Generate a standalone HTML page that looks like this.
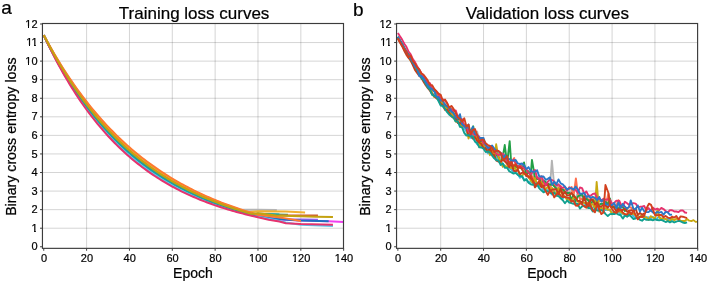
<!DOCTYPE html>
<html><head><meta charset="utf-8"><style>
html,body{margin:0;padding:0;background:#fff;width:708px;height:283px;overflow:hidden}
svg{display:block;font-family:"Liberation Sans",sans-serif;will-change:transform}
text{stroke:#000;stroke-width:0.22px}
</style></head><body>
<svg width="708" height="283" viewBox="0 0 708 283" font-family="Liberation Sans, sans-serif">
<rect width="708" height="283" fill="#fff"/>
<path d="M86.60 23.50V248.35M129.44 23.50V248.35M172.29 23.50V248.35M215.13 23.50V248.35M257.98 23.50V248.35M300.83 23.50V248.35" stroke="#000" stroke-opacity="0.17" stroke-width="1" fill="none"/>
<path d="M42.45 228.21H343.50M42.45 209.65H343.50M42.45 191.08H343.50M42.45 172.52H343.50M42.45 153.95H343.50M42.45 135.38H343.50M42.45 116.82H343.50M42.45 98.25H343.50M42.45 79.69H343.50M42.45 61.12H343.50M42.45 42.55H343.50" stroke="#000" stroke-opacity="0.17" stroke-width="1" fill="none"/>
<path d="M440.70 23.50V248.35M483.54 23.50V248.35M526.39 23.50V248.35M569.23 23.50V248.35M612.08 23.50V248.35M654.93 23.50V248.35" stroke="#000" stroke-opacity="0.17" stroke-width="1" fill="none"/>
<path d="M396.55 228.21H697.60M396.55 209.65H697.60M396.55 191.08H697.60M396.55 172.52H697.60M396.55 153.95H697.60M396.55 135.38H697.60M396.55 116.82H697.60M396.55 98.25H697.60M396.55 79.69H697.60M396.55 61.12H697.60M396.55 42.55H697.60" stroke="#000" stroke-opacity="0.17" stroke-width="1" fill="none"/>
<svg x="42.45" y="23.50" width="301.05" height="224.85" viewBox="42.45 23.50 301.05 224.85" overflow="hidden">
<polyline points="43.75,35.13 45.89,39.55 48.03,43.87 50.18,48.10 52.32,52.24 54.46,56.28 56.60,60.24 58.75,64.12 60.89,67.91 63.03,71.61 65.17,75.24 67.32,78.79 69.46,82.26 71.60,85.66 73.74,88.98 75.88,92.23 78.03,95.41 80.17,98.52 82.31,101.57 84.45,104.55 86.60,107.46 88.74,110.31 90.88,113.10 93.02,115.83 95.17,118.50 97.31,121.11 99.45,123.66 101.59,126.16 103.73,128.61 105.88,131.00 108.02,133.34 110.16,135.63 112.30,137.87 114.45,140.06 116.59,142.21 118.73,144.31 120.87,146.36 123.02,148.37 125.16,150.34 127.30,152.26 129.44,154.14 131.58,155.98 133.73,157.78 135.87,159.55 138.01,161.27 140.15,162.96 142.30,164.61 144.44,166.22 146.58,167.80 148.72,169.35 150.87,170.86 153.01,172.34 155.15,173.79 157.29,175.21 159.43,176.60 161.58,177.95 163.72,179.28 165.86,180.58 168.00,181.85 170.15,183.09 172.29,184.31 174.43,185.50 176.57,186.67 178.71,187.81 180.86,188.92 183.00,190.01 185.14,191.08 187.28,192.13 189.43,193.15 191.57,194.15 193.71,195.13 195.85,196.09 198.00,197.02 200.14,197.94 202.28,198.84 204.42,199.72 206.56,200.58 208.71,201.42 210.85,202.24 212.99,203.05 215.13,203.84 217.28,204.61 219.42,205.36 221.56,206.10 223.70,206.82 225.85,207.53 227.99,208.22 230.13,208.90 232.27,209.56 234.41,210.21 236.56,210.84 238.70,211.47 240.84,212.07 242.98,212.67 245.13,213.25 247.27,213.82 249.41,214.38 251.55,214.92 253.70,215.46 255.84,215.98 257.98,216.49 279.40,219.49 300.83,220.60 328.68,221.34 343.67,222.09" stroke="#f040f0" stroke-width="2.0" fill="none" stroke-linejoin="round" stroke-linecap="butt"/>
<polyline points="43.75,35.13 45.89,39.52 48.03,43.82 50.18,48.03 52.32,52.14 54.46,56.17 56.60,60.11 58.75,63.96 60.89,67.73 63.03,71.42 65.17,75.04 67.32,78.57 69.46,82.03 71.60,85.41 73.74,88.72 75.88,91.96 78.03,95.13 80.17,98.23 82.31,101.26 84.45,104.23 86.60,107.14 88.74,109.98 90.88,112.76 93.02,115.48 95.17,118.15 97.31,120.75 99.45,123.30 101.59,125.80 103.73,128.24 105.88,130.63 108.02,132.97 110.16,135.25 112.30,137.49 114.45,139.68 116.59,141.83 118.73,143.93 120.87,145.98 123.02,147.99 125.16,149.95 127.30,151.88 129.44,153.76 131.58,155.60 133.73,157.40 135.87,159.17 138.01,160.89 140.15,162.58 142.30,164.24 144.44,165.85 146.58,167.44 148.72,168.99 150.87,170.50 153.01,171.99 155.15,173.44 157.29,174.86 159.43,176.25 161.58,177.61 163.72,178.94 165.86,180.25 168.00,181.52 170.15,182.77 172.29,183.99 174.43,185.19 176.57,186.36 178.71,187.50 180.86,188.62 183.00,189.72 185.14,190.79 187.28,191.84 189.43,192.87 191.57,193.88 193.71,194.86 195.85,195.82 198.00,196.77 200.14,197.69 202.28,198.59 204.42,199.48 206.56,200.34 208.71,201.19 210.85,202.02 212.99,202.83 215.13,203.62 217.28,204.40 219.42,205.16 221.56,205.90 223.70,206.63 225.85,207.34 227.99,208.04 230.13,208.73 232.27,209.39 234.41,210.05 236.56,210.69 238.70,211.32 240.84,211.93 242.98,212.53 245.13,213.12 247.27,213.69 249.41,214.26 251.55,214.81 253.70,215.35 255.84,215.87 257.98,216.39 276.19,218.37 290.11,219.30 317.96,219.67" stroke="#a060f0" stroke-width="2.0" fill="none" stroke-linejoin="round" stroke-linecap="butt"/>
<polyline points="43.75,35.13 45.89,39.53 48.03,43.84 50.18,48.06 52.32,52.19 54.46,56.23 56.60,60.18 58.75,64.04 60.89,67.82 63.03,71.52 65.17,75.14 67.32,78.68 69.46,82.14 71.60,85.53 73.74,88.85 75.88,92.09 78.03,95.27 80.17,98.38 82.31,101.41 84.45,104.39 86.60,107.30 88.74,110.14 90.88,112.93 93.02,115.65 95.17,118.32 97.31,120.93 99.45,123.48 101.59,125.98 103.73,128.42 105.88,130.81 108.02,133.15 110.16,135.44 112.30,137.68 114.45,139.87 116.59,142.02 118.73,144.12 120.87,146.17 123.02,148.18 125.16,150.14 127.30,152.07 129.44,153.95 131.58,155.79 133.73,157.59 135.87,159.36 138.01,161.08 140.15,162.77 142.30,164.42 144.44,166.04 146.58,167.62 148.72,169.17 150.87,170.68 153.01,172.16 155.15,173.61 157.29,175.03 159.43,176.42 161.58,177.78 163.72,179.11 165.86,180.41 168.00,181.69 170.15,182.93 172.29,184.15 174.43,185.34 176.57,186.51 178.71,187.65 180.86,188.77 183.00,189.87 185.14,190.94 187.28,191.98 189.43,193.01 191.57,194.01 193.71,194.99 195.85,195.95 198.00,196.90 200.14,197.82 202.28,198.72 204.42,199.60 206.56,200.46 208.71,201.30 210.85,202.13 212.99,202.94 215.13,203.73 217.28,204.50 219.42,205.26 221.56,206.00 223.70,206.73 225.85,207.44 227.99,208.13 230.13,208.81 232.27,209.48 234.41,210.13 236.56,210.77 238.70,211.39 240.84,212.00 242.98,212.60 245.13,213.18 247.27,213.76 249.41,214.32 251.55,214.86 253.70,215.40 255.84,215.93 257.98,216.44 276.19,219.12 300.83,220.60 328.68,221.16" stroke="#1f6fc0" stroke-width="2.0" fill="none" stroke-linejoin="round" stroke-linecap="butt"/>
<polyline points="43.75,35.13 45.89,39.44 48.03,43.66 50.18,47.79 52.32,51.83 54.46,55.79 56.60,59.66 58.75,63.46 60.89,67.17 63.03,70.80 65.17,74.36 67.32,77.85 69.46,81.26 71.60,84.60 73.74,87.87 75.88,91.07 78.03,94.20 80.17,97.27 82.31,100.27 84.45,103.21 86.60,106.09 88.74,108.91 90.88,111.67 93.02,114.37 95.17,117.01 97.31,119.60 99.45,122.13 101.59,124.61 103.73,127.04 105.88,129.42 108.02,131.75 110.16,134.03 112.30,136.26 114.45,138.45 116.59,140.59 118.73,142.68 120.87,144.73 123.02,146.74 125.16,148.71 127.30,150.63 129.44,152.52 131.58,154.36 133.73,156.17 135.87,157.94 138.01,159.67 140.15,161.37 142.30,163.03 144.44,164.66 146.58,166.25 148.72,167.81 150.87,169.33 153.01,170.83 155.15,172.29 157.29,173.72 159.43,175.13 161.58,176.50 163.72,177.84 165.86,179.16 168.00,180.45 170.15,181.71 172.29,182.95 174.43,184.16 176.57,185.35 178.71,186.51 180.86,187.64 183.00,188.76 185.14,189.85 187.28,190.91 189.43,191.96 191.57,192.98 193.71,193.98 195.85,194.97 198.00,195.93 200.14,196.87 202.28,197.79 204.42,198.69 206.56,199.57 208.71,200.44 210.85,201.29 212.99,202.12 215.13,202.93 217.28,203.72 219.42,204.50 221.56,205.27 223.70,206.01 225.85,206.75 227.99,207.46 230.13,208.16 232.27,208.85 234.41,209.52 236.56,210.18 238.70,210.83 240.84,211.46 242.98,212.08 245.13,212.69 247.27,213.28 249.41,213.86 251.55,214.43 253.70,214.99 257.98,213.92 287.97,214.66" stroke="#4fb070" stroke-width="2.0" fill="none" stroke-linejoin="round" stroke-linecap="butt"/>
<polyline points="43.75,35.13 45.89,39.15 48.03,43.09 50.18,46.96 52.32,50.75 54.46,54.47 56.60,58.12 58.75,61.70 60.89,65.22 63.03,68.66 65.17,72.04 67.32,75.35 69.46,78.60 71.60,81.79 73.74,84.92 75.88,87.98 78.03,90.99 80.17,93.94 82.31,96.84 84.45,99.68 86.60,102.46 88.74,105.19 90.88,107.87 93.02,110.50 95.17,113.08 97.31,115.61 99.45,118.09 101.59,120.52 103.73,122.91 105.88,125.25 108.02,127.54 110.16,129.80 112.30,132.01 114.45,134.17 116.59,136.30 118.73,138.38 120.87,140.43 123.02,142.44 125.16,144.40 127.30,146.33 129.44,148.23 131.58,150.08 133.73,151.91 135.87,153.69 138.01,155.45 140.15,157.17 142.30,158.85 144.44,160.51 146.58,162.13 148.72,163.72 150.87,165.28 153.01,166.81 155.15,168.32 157.29,169.79 159.43,171.24 161.58,172.66 163.72,174.05 165.86,175.41 168.00,176.75 170.15,178.06 172.29,179.35 174.43,180.61 176.57,181.85 178.71,183.07 180.86,184.26 183.00,185.43 185.14,186.58 187.28,187.71 189.43,188.81 191.57,189.89 193.71,190.96 195.85,192.00 198.00,193.02 200.14,194.02 202.28,195.01 204.42,195.97 206.56,196.92 208.71,197.85 210.85,198.76 212.99,199.65 215.13,200.53 217.28,201.39 219.42,202.23 221.56,203.06 223.70,203.87 225.85,204.67 227.99,205.45 230.13,206.22 232.27,206.97 234.41,207.71 236.56,208.43 238.70,209.14 240.84,209.84 257.98,209.65 276.83,210.02" stroke="#b4b4b4" stroke-width="2.0" fill="none" stroke-linejoin="round" stroke-linecap="butt"/>
<polyline points="43.75,35.13 45.89,39.21 48.03,43.22 50.18,47.14 52.32,50.99 54.46,54.77 56.60,58.47 58.75,62.09 60.89,65.65 63.03,69.14 65.17,72.55 67.32,75.91 69.46,79.19 71.60,82.41 73.74,85.57 75.88,88.67 78.03,91.71 80.17,94.68 82.31,97.60 84.45,100.46 86.60,103.27 88.74,106.02 90.88,108.72 93.02,111.36 95.17,113.95 97.31,116.49 99.45,118.99 101.59,121.43 103.73,123.83 105.88,126.18 108.02,128.48 110.16,130.74 112.30,132.95 114.45,135.12 116.59,137.25 118.73,139.34 120.87,141.39 123.02,143.39 125.16,145.36 127.30,147.29 129.44,149.18 131.58,151.04 133.73,152.85 135.87,154.64 138.01,156.39 140.15,158.10 142.30,159.78 144.44,161.43 146.58,163.04 148.72,164.63 150.87,166.18 153.01,167.71 155.15,169.20 157.29,170.66 159.43,172.10 161.58,173.51 163.72,174.89 165.86,176.24 168.00,177.57 170.15,178.87 172.29,180.15 174.43,181.40 176.57,182.63 178.71,183.83 180.86,185.01 183.00,186.17 185.14,187.31 187.28,188.42 189.43,189.51 191.57,190.58 193.71,191.63 195.85,192.66 198.00,193.67 200.14,194.66 202.28,195.63 204.42,196.58 206.56,197.51 208.71,198.42 210.85,199.32 212.99,200.20 215.13,201.06 217.28,201.91 219.42,202.74 221.56,203.55 223.70,204.35 225.85,205.13 227.99,205.90 230.13,206.65 232.27,207.39 234.41,208.11 236.56,208.82 238.70,209.52 240.84,210.20 242.98,210.87 245.13,211.52 247.27,212.17 257.98,211.32 285.83,211.50 305.11,212.43" stroke="#f0b030" stroke-width="2.0" fill="none" stroke-linejoin="round" stroke-linecap="butt"/>
<polyline points="43.75,35.13 45.89,39.34 48.03,43.47 50.18,47.51 52.32,51.47 54.46,55.35 56.60,59.15 58.75,62.87 60.89,66.52 63.03,70.09 65.17,73.59 67.32,77.02 69.46,80.37 71.60,83.66 73.74,86.88 75.88,90.04 78.03,93.13 80.17,96.16 82.31,99.13 84.45,102.03 86.60,104.88 88.74,107.67 90.88,110.40 93.02,113.08 95.17,115.70 97.31,118.27 99.45,120.79 101.59,123.25 103.73,125.67 105.88,128.03 108.02,130.35 110.16,132.62 112.30,134.84 114.45,137.02 116.59,139.16 118.73,141.25 120.87,143.30 123.02,145.31 125.16,147.27 127.30,149.20 129.44,151.09 131.58,152.94 133.73,154.75 135.87,156.52 138.01,158.26 140.15,159.97 142.30,161.64 144.44,163.27 146.58,164.87 148.72,166.44 150.87,167.98 153.01,169.49 155.15,170.97 157.29,172.41 159.43,173.83 161.58,175.22 163.72,176.58 165.86,177.91 168.00,179.22 170.15,180.50 172.29,181.75 174.43,182.98 176.57,184.18 178.71,185.36 180.86,186.52 183.00,187.65 185.14,188.76 187.28,189.84 189.43,190.91 191.57,191.95 193.71,192.98 195.85,193.98 198.00,194.96 200.14,195.92 202.28,196.86 204.42,197.79 206.56,198.69 208.71,199.58 210.85,200.44 212.99,201.30 215.13,202.13 217.28,202.95 219.42,203.75 221.56,204.53 223.70,205.30 225.85,206.05 227.99,206.79 230.13,207.52 232.27,208.22 234.41,208.92 236.56,209.60 238.70,210.27 240.84,210.92 242.98,211.56 245.13,212.19 247.27,212.80 249.41,213.40 251.55,213.99 253.70,214.57 257.98,214.29 276.19,215.59 317.96,215.59" stroke="#d05a30" stroke-width="2.0" fill="none" stroke-linejoin="round" stroke-linecap="butt"/>
<polyline points="43.75,35.13 45.89,39.61 48.03,44.00 50.18,48.28 52.32,52.48 54.46,56.58 56.60,60.59 58.75,64.51 60.89,68.34 63.03,72.09 65.17,75.76 67.32,79.35 69.46,82.85 71.60,86.28 73.74,89.64 75.88,92.92 78.03,96.12 80.17,99.26 82.31,102.33 84.45,105.33 86.60,108.26 88.74,111.13 90.88,113.94 93.02,116.68 95.17,119.37 97.31,121.99 99.45,124.56 101.59,127.07 103.73,129.53 105.88,131.93 108.02,134.28 110.16,136.57 112.30,138.82 114.45,141.01 116.59,143.16 118.73,145.26 120.87,147.32 123.02,149.33 125.16,151.29 127.30,153.22 129.44,155.09 131.58,156.93 133.73,158.73 135.87,160.49 138.01,162.21 140.15,163.89 142.30,165.54 144.44,167.15 146.58,168.72 148.72,170.26 150.87,171.76 153.01,173.23 155.15,174.67 157.29,176.08 159.43,177.46 161.58,178.81 163.72,180.12 165.86,181.41 168.00,182.67 170.15,183.90 172.29,185.11 174.43,186.29 176.57,187.44 178.71,188.57 180.86,189.67 183.00,190.75 185.14,191.81 187.28,192.84 189.43,193.85 191.57,194.84 193.71,195.80 195.85,196.75 198.00,197.67 200.14,198.57 202.28,199.46 204.42,200.32 206.56,201.17 208.71,201.99 210.85,202.80 212.99,203.59 215.13,204.37 217.28,205.13 219.42,205.87 221.56,206.59 223.70,207.30 225.85,207.99 227.99,208.67 230.13,209.33 232.27,209.98 234.41,210.61 236.56,211.23 238.70,211.84 240.84,212.43 242.98,213.01 245.13,213.58 247.27,214.14 249.41,214.68 251.55,215.21 253.70,215.73 255.84,216.24 257.98,216.74 276.19,220.23 285.83,222.46 300.83,224.87 332.96,225.99" stroke="#5cc8ee" stroke-width="2.0" fill="none" stroke-linejoin="round" stroke-linecap="butt"/>
<polyline points="43.75,35.13 45.89,39.46 48.03,43.69 50.18,47.84 52.32,51.90 54.46,55.88 56.60,59.76 58.75,63.57 60.89,67.30 63.03,70.95 65.17,74.52 67.32,78.01 69.46,81.44 71.60,84.78 73.74,88.06 75.88,91.27 78.03,94.41 80.17,97.49 82.31,100.50 84.45,103.45 86.60,106.33 88.74,109.15 90.88,111.92 93.02,114.62 95.17,117.27 97.31,119.87 99.45,122.40 101.59,124.89 103.73,127.32 105.88,129.70 108.02,132.03 110.16,134.31 112.30,136.55 114.45,138.73 116.59,140.87 118.73,142.97 120.87,145.02 123.02,147.03 125.16,149.00 127.30,150.92 129.44,152.81 131.58,154.65 133.73,156.46 135.87,158.22 138.01,159.95 140.15,161.65 142.30,163.31 144.44,164.93 146.58,166.52 148.72,168.08 150.87,169.60 153.01,171.09 155.15,172.56 157.29,173.99 159.43,175.39 161.58,176.76 163.72,178.10 165.86,179.41 168.00,180.70 170.15,181.96 172.29,183.19 174.43,184.40 176.57,185.58 178.71,186.74 180.86,187.87 183.00,188.98 185.14,190.06 187.28,191.13 189.43,192.17 191.57,193.19 193.71,194.19 195.85,195.16 198.00,196.12 200.14,197.06 202.28,197.97 204.42,198.87 206.56,199.75 208.71,200.61 210.85,201.46 212.99,202.28 215.13,203.09 217.28,203.88 219.42,204.66 221.56,205.41 223.70,206.16 225.85,206.88 227.99,207.60 230.13,208.29 232.27,208.98 234.41,209.64 236.56,210.30 238.70,210.94 240.84,211.57 242.98,212.18 245.13,212.78 247.27,213.37 249.41,213.95 251.55,214.52 253.70,215.07 257.98,213.73 279.40,214.48" stroke="#1aa0a0" stroke-width="2.0" fill="none" stroke-linejoin="round" stroke-linecap="butt"/>
<polyline points="43.75,35.13 45.89,39.73 48.03,44.22 50.18,48.61 52.32,52.91 54.46,57.10 56.60,61.20 58.75,65.21 60.89,69.12 63.03,72.95 65.17,76.69 67.32,80.34 69.46,83.92 71.60,87.41 73.74,90.82 75.88,94.15 78.03,97.41 80.17,100.59 82.31,103.70 84.45,106.74 86.60,109.72 88.74,112.62 90.88,115.46 93.02,118.23 95.17,120.94 97.31,123.59 99.45,126.18 101.59,128.71 103.73,131.18 105.88,133.60 108.02,135.96 110.16,138.27 112.30,140.52 114.45,142.72 116.59,144.88 118.73,146.98 120.87,149.04 123.02,151.05 125.16,153.02 127.30,154.94 129.44,156.81 131.58,158.65 133.73,160.44 135.87,162.19 138.01,163.90 140.15,165.57 142.30,167.21 144.44,168.80 146.58,170.37 148.72,171.89 150.87,173.38 153.01,174.84 155.15,176.26 157.29,177.66 159.43,179.02 161.58,180.34 163.72,181.64 165.86,182.91 168.00,184.15 170.15,185.37 172.29,186.55 174.43,187.71 176.57,188.84 178.71,189.95 180.86,191.03 183.00,192.08 185.14,193.11 187.28,194.12 189.43,195.11 191.57,196.07 193.71,197.01 195.85,197.93 198.00,198.83 200.14,199.71 202.28,200.57 204.42,201.41 206.56,202.23 208.71,203.03 210.85,203.81 212.99,204.58 215.13,205.33 217.28,206.06 219.42,206.77 221.56,207.47 223.70,208.15 225.85,208.82 227.99,209.47 230.13,210.11 232.27,210.73 234.41,211.34 236.56,211.93 238.70,212.52 240.84,213.08 242.98,213.64 245.13,214.18 247.27,214.71 249.41,215.23 251.55,215.73 253.70,216.23 255.84,216.71 257.98,217.18 268.69,219.67 279.40,221.53 285.83,223.20 300.83,223.94 332.96,224.69" stroke="#e6326e" stroke-width="2.0" fill="none" stroke-linejoin="round" stroke-linecap="butt"/>
<polyline points="43.75,35.13 45.89,39.08 48.03,42.97 50.18,46.78 52.32,50.51 54.46,54.18 56.60,57.78 58.75,61.31 60.89,64.78 63.03,68.18 65.17,71.52 67.32,74.80 69.46,78.01 71.60,81.17 73.74,84.26 75.88,87.30 78.03,90.28 80.17,93.20 82.31,96.08 84.45,98.89 86.60,101.66 88.74,104.37 90.88,107.03 93.02,109.64 95.17,112.21 97.31,114.72 99.45,117.19 101.59,119.61 103.73,121.99 105.88,124.32 108.02,126.61 110.16,128.86 112.30,131.06 114.45,133.22 116.59,135.35 118.73,137.43 120.87,139.47 123.02,141.48 125.16,143.45 127.30,145.38 129.44,147.27 131.58,149.13 133.73,150.96 135.87,152.75 138.01,154.51 140.15,156.23 142.30,157.92 144.44,159.58 146.58,161.21 148.72,162.81 150.87,164.38 153.01,165.92 155.15,167.43 157.29,168.92 159.43,170.37 161.58,171.80 163.72,173.20 165.86,174.58 168.00,175.93 170.15,177.25 172.29,178.55 174.43,179.83 176.57,181.08 178.71,182.31 180.86,183.51 183.00,184.69 185.14,185.85 187.28,186.99 189.43,188.11 191.57,189.21 193.71,190.28 195.85,191.34 198.00,192.38 200.14,193.39 202.28,194.39 204.42,195.37 206.56,196.33 208.71,197.27 210.85,198.20 212.99,199.11 215.13,200.00 217.28,200.87 219.42,201.73 221.56,202.57 223.70,203.40 225.85,204.21 227.99,205.00 230.13,205.79 232.27,206.55 234.41,207.30 236.56,208.04 238.70,208.77 240.84,209.48 242.98,210.17 245.13,210.86 247.27,211.53 249.41,212.19 251.55,212.83 253.70,213.47 255.84,214.09 257.98,214.70 276.19,216.89 285.83,218.37 300.83,220.97" stroke="#ff7a30" stroke-width="2.0" fill="none" stroke-linejoin="round" stroke-linecap="butt"/>
<polyline points="43.75,35.13 45.89,39.31 48.03,43.41 50.18,47.42 52.32,51.35 54.46,55.20 56.60,58.98 58.75,62.68 60.89,66.30 63.03,69.85 65.17,73.33 67.32,76.74 69.46,80.08 71.60,83.35 73.74,86.56 75.88,89.70 78.03,92.77 80.17,95.79 82.31,98.74 84.45,101.64 86.60,104.48 88.74,107.26 90.88,109.98 93.02,112.65 95.17,115.26 97.31,117.83 99.45,120.34 101.59,122.80 103.73,125.21 105.88,127.57 108.02,129.88 110.16,132.15 112.30,134.37 114.45,136.55 116.59,138.68 118.73,140.77 120.87,142.82 123.02,144.83 125.16,146.80 127.30,148.72 129.44,150.61 131.58,152.46 133.73,154.28 135.87,156.05 138.01,157.79 140.15,159.50 142.30,161.17 144.44,162.81 146.58,164.42 148.72,165.99 150.87,167.53 153.01,169.04 155.15,170.52 157.29,171.98 159.43,173.40 161.58,174.79 163.72,176.16 165.86,177.49 168.00,178.81 170.15,180.09 172.29,181.35 174.43,182.58 176.57,183.79 178.71,184.98 180.86,186.14 183.00,187.28 185.14,188.39 187.28,189.49 189.43,190.56 191.57,191.61 193.71,192.64 195.85,193.65 198.00,194.64 200.14,195.60 202.28,196.55 204.42,197.48 206.56,198.39 208.71,199.29 210.85,200.16 212.99,201.02 215.13,201.86 217.28,202.69 219.42,203.50 221.56,204.29 223.70,205.06 225.85,205.82 227.99,206.57 230.13,207.30 232.27,208.01 234.41,208.72 236.56,209.40 238.70,210.08 240.84,210.74 242.98,211.39 245.13,212.02 247.27,212.64 249.41,213.25 251.55,213.85 257.98,213.18 276.19,215.59 315.82,216.70 332.96,217.07" stroke="#c4a210" stroke-width="2.0" fill="none" stroke-linejoin="round" stroke-linecap="butt"/>
</svg>
<svg x="396.55" y="23.50" width="301.05" height="224.85" viewBox="396.55 23.50 301.05 224.85" overflow="hidden">
<polyline points="397.85,36.98 399.99,40.67 402.13,43.89 404.28,47.07 406.42,51.33 408.56,55.52 410.70,58.09 412.85,61.24 414.99,64.31 417.13,69.81 419.27,73.49 421.42,74.69 423.56,77.84 425.70,79.78 427.84,83.23 429.98,87.23 432.13,89.95 434.27,89.55 436.41,95.07 438.55,98.16 440.70,101.12 442.84,102.12 444.98,104.44 447.12,107.45 449.27,109.48 451.41,111.39 453.55,113.13 455.69,114.85 457.83,118.60 459.98,124.31 462.12,122.49 464.26,128.34 466.40,128.20 468.55,132.80 470.69,132.06 472.83,135.74 474.97,135.80 477.12,131.59 479.26,140.51 481.40,140.78 483.54,147.30 485.68,146.77 487.83,146.41 489.97,149.54 492.11,150.19 494.25,152.32 496.40,156.17 498.54,154.55 500.68,158.95 502.82,155.06 504.97,161.50 507.11,160.34 509.25,163.01 511.39,162.34 513.53,166.78 515.68,164.79 517.82,168.35 519.96,166.79 522.10,169.37 524.25,171.62 526.39,174.78 528.53,172.77 530.67,174.54 532.81,173.30 534.96,178.57 537.10,177.83 539.24,179.08 541.38,180.69 543.53,182.00 545.67,183.21 547.81,185.95 549.95,187.74 551.88,160.63 554.24,186.32 556.38,185.37 558.52,187.40 560.66,188.17 562.81,189.67 564.95,190.76 567.09,192.75 569.23,192.48 571.38,191.12 573.52,196.10 575.66,197.54 577.80,192.81 579.95,197.01 582.09,196.21 584.23,197.10 586.37,201.90 588.51,195.30 590.66,197.33 592.80,201.12 594.94,200.47 597.08,202.27 599.23,204.86 601.37,203.81 603.51,203.34 605.65,202.35 607.80,203.70 609.94,205.55 612.08,203.43 614.22,208.15 616.36,205.54 618.51,205.41 620.65,208.50" stroke="#b4b4b4" stroke-width="1.9" fill="none" stroke-linejoin="round" stroke-linecap="butt"/>
<polyline points="397.85,36.98 399.99,40.46 402.13,43.46 404.28,47.72 406.42,51.89 408.56,54.09 410.70,57.25 412.85,60.99 414.99,64.44 417.13,68.53 419.27,72.51 421.42,75.60 423.56,78.07 425.70,81.16 427.84,82.84 429.98,86.06 432.13,90.49 434.27,91.01 436.41,94.29 438.55,95.57 440.70,97.64 442.84,101.04 444.98,106.29 447.12,105.59 449.27,110.96 451.41,108.94 453.55,114.55 455.69,116.23 457.83,115.36 459.98,123.66 462.12,123.01 464.26,127.08 466.40,128.19 468.55,130.84 470.69,130.01 472.83,134.07 474.97,134.82 477.12,136.29 479.26,143.23 481.40,138.89 483.54,144.37 485.68,148.86 487.83,148.37 489.97,146.78 492.11,148.08 494.25,153.15 496.40,153.09 498.54,154.38 500.68,154.30 502.82,158.30 504.97,157.56 507.11,162.70 509.25,163.60 511.39,161.98 514.18,158.03 515.68,165.98 517.82,165.88 519.96,167.96 522.10,168.06 524.25,168.49 526.39,171.09 528.53,171.62 530.67,175.30 532.81,176.80 534.96,181.69 537.10,177.10 539.24,179.04 541.38,179.16 543.53,185.32 545.67,183.59 547.81,184.90 549.95,188.42 552.10,183.71 554.24,183.99 556.38,190.12 558.52,187.48 560.66,185.74 562.81,192.80 564.95,189.15 567.09,188.83 569.23,189.18 571.59,187.00 573.52,196.68 575.88,178.46 577.80,193.33 579.95,199.16 582.09,198.79 584.23,200.25 586.37,196.30 588.51,200.47 590.66,198.80 592.80,199.17 594.94,198.62 597.08,200.70 599.23,201.39 601.37,200.20 603.51,202.15 605.65,206.31 608.22,193.87 609.94,202.83 612.08,204.96 614.22,206.42 616.36,205.67 618.51,200.18 620.65,207.17 622.79,206.64 624.93,207.16 627.08,208.91 629.22,206.88 631.36,207.94 633.50,209.17" stroke="#ff7050" stroke-width="1.9" fill="none" stroke-linejoin="round" stroke-linecap="butt"/>
<polyline points="397.85,36.80 399.99,40.51 402.13,44.28 404.28,48.86 406.42,53.15 408.56,56.15 410.70,59.49 412.85,63.72 414.99,68.26 417.13,71.32 419.27,73.66 421.42,78.67 423.56,79.95 425.70,83.35 427.84,86.40 429.98,89.19 432.13,92.87 434.27,95.14 436.41,96.13 438.55,100.62 440.70,103.29 442.84,106.66 444.98,108.24 447.12,109.44 449.27,111.28 451.41,114.33 453.55,116.75 455.69,119.21 457.83,121.93 459.98,123.45 462.12,127.43 464.26,127.83 466.40,131.60 468.55,136.07 470.69,137.79 472.83,138.22 474.97,140.78 477.12,144.15 479.26,145.56 481.40,146.16 483.54,147.94 485.68,148.92 487.83,153.39 489.97,153.08 492.11,153.72 494.25,156.52 496.40,155.93 498.54,161.25 500.68,162.20 502.82,163.60 504.97,166.23 507.11,167.05 509.25,167.98 511.39,169.79 513.53,171.93 515.68,173.22 517.82,174.01 519.96,177.74 522.10,176.35 524.25,179.80 526.39,179.81 528.53,182.31 530.67,181.54 532.81,183.44 534.96,184.39 537.10,186.31 539.24,186.07 541.38,184.84 543.53,191.43 545.67,188.85 547.81,190.45 549.95,192.35 552.10,194.69 554.24,191.04 556.38,194.19 558.52,193.80 560.66,196.92 562.81,198.46 564.95,196.42 567.09,197.89 569.23,200.47 571.38,201.01 573.52,200.35 575.66,203.29 577.80,204.02 579.95,203.43 582.09,202.43 584.23,203.34 586.37,205.09 588.51,203.92 590.66,206.98 592.80,208.04 594.94,204.02 597.08,209.06 599.23,207.82 601.37,208.40 603.51,209.60 605.65,209.94 607.80,209.70 609.94,210.44 612.08,212.76 614.22,212.20 616.36,210.49 618.51,211.90 620.65,213.98 622.79,213.65 624.93,215.47 627.08,216.21 629.22,215.56 631.36,213.27 633.50,216.40 635.65,218.21 637.79,216.28 639.93,217.16 642.07,215.88 644.21,215.66 646.36,217.50 648.50,217.30 650.64,218.54 652.78,216.77 654.93,218.86 657.07,218.33 659.21,216.36 661.35,219.53 663.50,218.73 665.64,219.09 667.78,218.83 669.92,219.01 672.06,218.35" stroke="#40b8e8" stroke-width="1.9" fill="none" stroke-linejoin="round" stroke-linecap="butt"/>
<polyline points="397.85,36.98 399.99,40.80 402.13,44.11 404.28,47.91 406.42,51.66 408.56,54.25 410.70,58.51 412.85,62.37 414.99,64.28 417.13,69.76 419.27,74.03 421.42,77.13 423.56,79.35 425.70,81.21 427.84,83.96 429.98,86.62 432.13,88.42 434.27,91.06 436.41,94.69 438.55,96.47 440.70,99.74 442.84,103.51 444.98,104.20 447.12,107.52 449.27,110.26 451.41,109.49 453.55,113.58 455.69,117.87 457.83,119.62 459.98,117.93 462.12,124.68 464.26,125.00 466.40,127.25 468.55,129.50 470.69,131.40 473.26,126.29 474.97,137.70 477.12,139.16 479.26,141.65 481.40,141.33 483.54,141.89 485.68,148.51 487.83,147.14 489.97,151.89 492.11,152.88 494.25,153.54 496.40,154.41 498.54,157.13 500.68,163.22 502.82,156.54 504.75,145.04 507.11,163.58 509.68,141.14 511.39,166.05 513.53,169.04 515.68,166.34 517.82,167.75 520.39,164.35 522.10,169.42 524.03,162.49 526.39,176.04 528.53,171.21 530.67,175.42 531.96,159.89 534.96,177.31 537.10,179.12 539.24,178.51 541.38,184.45 543.53,180.64 545.67,181.99 547.81,183.64 549.95,184.73 552.10,184.19 554.24,186.34 556.38,188.48 558.52,191.39 560.66,188.27 562.81,189.46 564.95,191.79 567.09,193.01 569.23,192.74 571.38,200.12 573.52,194.93 575.66,201.44 577.80,196.44 579.95,195.43 582.09,194.37 584.23,199.95 586.37,198.76 588.51,200.47 590.66,205.61 592.80,200.00 594.94,202.05 597.08,202.39 599.23,204.99 601.37,203.63 603.51,203.89 605.65,201.92 607.80,204.47 609.94,198.36 612.08,206.94 614.22,207.07 616.36,207.09 618.51,208.99 620.65,205.05 622.79,207.14 624.93,211.02 627.08,209.02" stroke="#22a046" stroke-width="1.9" fill="none" stroke-linejoin="round" stroke-linecap="butt"/>
<polyline points="397.85,37.91 399.99,41.78 402.13,45.19 404.28,48.37 406.42,52.46 408.56,55.83 410.70,60.75 412.85,63.29 414.99,66.96 417.13,69.34 419.27,73.55 421.42,76.71 423.56,80.39 425.70,83.51 427.84,85.70 429.98,87.33 432.13,93.29 434.27,96.92 436.41,94.24 438.55,97.21 440.70,100.87 442.84,103.58 444.98,106.97 447.12,109.35 449.27,112.98 451.41,112.78 453.55,116.42 455.69,121.65 457.83,121.79 459.98,124.31 462.12,126.94 464.26,124.21 466.40,127.87 468.55,138.50 470.69,133.20 472.83,134.04 474.97,135.61 477.12,138.86 479.26,146.99 481.40,142.92 483.54,146.78 485.68,145.43 487.83,149.24 489.97,155.15 492.11,149.57 494.25,157.82 496.18,144.30 498.54,157.64 500.68,161.45 502.82,166.81 504.97,165.46 507.11,166.92 509.25,166.70 511.39,168.12 513.53,165.52 515.68,169.47 517.82,169.20 519.96,175.60 522.10,175.41 524.25,173.82 526.39,175.06 528.53,176.85 530.67,180.46 532.81,182.93 534.96,177.99 537.10,184.48 539.24,184.97 541.38,181.95 543.53,186.31 545.67,189.01 547.81,186.97 549.95,190.19 552.10,187.85 554.24,191.89 556.38,194.33 558.52,188.18 560.66,191.74 562.81,195.05 564.95,196.56 567.09,200.13 569.23,199.43 571.38,201.62 573.52,197.71 575.66,197.66 577.80,201.67 579.95,202.73 582.09,201.53 584.23,203.09 586.37,202.60 588.51,203.38 590.66,204.26 592.80,204.30 594.94,208.34 596.66,181.98 599.23,211.59 601.37,207.55 603.51,208.92 605.65,208.04 607.80,209.78 609.94,209.39 612.08,214.30 614.22,211.98 616.36,212.97 618.51,211.04 620.65,211.84 622.79,213.51 624.93,214.06 627.08,214.82 629.22,214.21 631.36,213.70 633.50,213.71 635.65,215.40 637.79,217.08 639.93,216.99 642.07,215.06 644.21,217.81 646.36,217.14 648.50,220.04 650.64,216.12 652.78,217.51 654.93,218.69 657.71,208.72 659.21,217.55 661.35,218.64 663.50,218.46 665.64,218.93 667.78,220.51 669.92,221.32 672.06,218.47 674.21,220.37 676.35,218.75 678.49,218.90 680.63,220.71 682.78,220.99 684.92,221.00 687.06,218.97 689.20,220.66 691.35,221.04 693.49,220.11 695.63,221.87 697.77,221.67" stroke="#c8a810" stroke-width="1.9" fill="none" stroke-linejoin="round" stroke-linecap="butt"/>
<polyline points="397.85,38.84 399.99,42.59 402.13,46.15 404.28,50.81 406.42,54.85 408.56,57.82 410.70,60.49 412.85,65.06 414.99,69.91 417.13,73.05 419.27,75.87 421.42,77.92 423.56,81.86 425.70,85.24 427.84,88.12 429.98,90.72 432.13,94.32 434.27,96.10 436.41,98.40 438.55,99.37 440.70,103.96 442.84,105.00 444.98,109.92 447.12,109.67 449.27,112.95 451.41,116.33 453.55,117.86 455.69,118.63 457.83,123.00 459.98,122.90 462.12,124.21 464.26,125.92 466.40,127.82 468.55,135.70 470.69,134.34 472.83,138.56 474.97,136.98 477.12,140.89 479.26,142.55 481.40,144.02 483.54,148.33 485.68,148.43 487.83,151.85 489.97,147.29 492.11,154.51 494.25,155.08 496.40,160.62 498.54,161.59 500.68,161.79 502.82,159.80 504.97,161.46 507.11,163.83 509.25,167.15 511.39,162.94 513.53,170.57 515.68,171.47 517.82,169.79 519.96,174.34 522.10,172.83 524.25,172.55 526.39,176.12 528.53,176.16 530.67,178.07 532.81,180.74 534.96,187.35 537.10,184.14 539.24,182.56 541.38,187.27 543.53,185.98 545.67,185.38 547.81,183.99 549.95,190.87 552.10,189.93 554.24,189.17 556.38,189.41 558.52,194.54 560.66,188.28 562.81,195.11 564.95,191.81 567.09,195.57 569.23,195.13 571.38,193.01 573.52,195.80 575.66,197.75 577.80,200.94 579.95,200.83 582.09,203.21 584.23,196.25 586.37,204.84 588.51,207.77 590.66,199.08 592.80,200.40 594.94,204.54 597.08,202.38 599.23,206.57 601.37,206.53 603.51,204.63 605.65,205.38 607.80,207.77 609.94,203.65 612.08,206.13 614.22,207.87 616.36,211.09 618.51,208.71 620.65,210.05 622.79,209.97 624.93,208.71 627.08,211.71 629.22,210.59 631.36,210.09 633.50,211.29 635.65,208.43 637.79,215.21 639.93,212.84 642.07,214.77 644.21,213.41" stroke="#c43c1c" stroke-width="1.9" fill="none" stroke-linejoin="round" stroke-linecap="butt"/>
<polyline points="397.85,36.80 399.99,40.60 402.13,44.02 404.28,48.27 406.42,51.39 408.56,56.10 410.70,58.59 412.85,62.77 414.99,65.43 417.13,69.60 419.27,73.96 421.42,77.39 423.56,80.04 425.70,83.63 427.84,87.49 429.98,89.57 432.13,94.86 434.27,95.78 436.41,96.79 438.55,101.01 440.70,105.58 442.84,105.74 444.98,109.00 447.12,112.21 449.27,114.68 451.41,116.29 453.55,117.85 455.69,121.40 457.83,121.44 459.98,126.93 462.12,127.35 464.26,132.84 466.40,135.61 468.55,135.02 470.69,136.56 472.83,136.09 474.97,141.76 477.12,142.88 479.26,147.42 481.40,147.52 483.54,148.79 485.68,152.05 487.83,151.44 489.97,152.54 492.11,155.55 494.25,158.31 496.40,160.24 498.54,160.64 500.68,164.98 502.82,163.47 504.97,167.70 507.11,167.67 509.25,171.28 511.39,172.40 513.53,173.58 515.68,172.80 517.82,174.95 519.96,176.28 522.10,176.18 524.25,180.60 526.39,179.10 528.53,182.64 530.67,184.30 532.81,184.90 534.96,183.46 537.10,183.66 539.24,188.38 541.38,190.39 543.53,192.36 545.67,190.92 547.81,191.44 549.95,192.42 552.10,193.59 554.24,192.70 556.38,195.79 558.52,196.16 560.66,198.19 562.81,200.23 564.95,203.24 567.09,200.51 569.23,202.47 571.38,203.04 573.52,203.88 575.66,203.50 577.80,204.08 579.95,208.61 582.09,206.27 584.23,205.65 586.37,206.51 588.51,208.12 590.66,208.16 592.80,211.56 594.94,208.92 597.08,210.48 599.23,210.45 601.37,210.02 603.51,211.45 605.65,214.08 607.80,216.03 609.94,214.14 612.08,213.97 614.22,214.03 616.36,213.24 618.51,214.66 620.65,215.21 622.79,218.61 624.93,215.43 627.08,216.71 629.22,214.63 631.36,216.80 633.50,219.11 635.65,218.27 637.79,217.85 639.93,219.82 642.07,220.74 644.21,218.73 646.36,219.92 648.50,219.78 650.64,219.69 652.78,220.27 654.93,219.43 657.07,220.07 659.21,220.22 661.35,219.85 663.50,220.81 665.64,222.02 667.78,221.06 669.92,222.35 672.06,221.17 674.21,222.48 676.35,221.67 678.49,220.75 680.63,221.31 682.78,222.54 684.92,223.08 687.06,222.44" stroke="#10a090" stroke-width="1.9" fill="none" stroke-linejoin="round" stroke-linecap="butt"/>
<polyline points="397.85,32.90 399.99,36.36 402.13,39.61 404.28,43.72 406.42,46.81 408.56,51.59 410.70,54.26 412.85,59.13 414.99,62.09 417.13,66.22 419.27,69.45 421.42,73.30 423.56,76.69 425.70,79.63 427.84,83.34 429.98,83.19 432.13,89.14 434.27,89.80 436.41,91.64 438.55,95.11 440.70,98.99 442.84,99.44 444.98,100.61 447.12,103.10 449.27,109.11 451.41,109.44 453.55,110.90 455.69,110.35 457.83,116.82 459.98,118.95 462.12,119.14 464.26,126.30 466.40,126.61 468.55,131.63 470.69,130.79 472.83,133.64 474.97,135.33 477.12,134.63 479.26,136.91 481.40,139.50 483.54,143.12 485.68,145.28 487.83,148.29 489.97,146.44 492.11,147.54 494.25,151.10 496.40,153.79 498.54,155.26 500.68,153.55 502.82,153.81 504.97,156.01 507.11,161.27 509.25,161.67 511.39,163.54 513.53,159.61 515.68,162.84 517.82,167.49 519.96,165.44 522.10,167.02 524.25,168.37 526.39,169.39 528.53,172.65 530.67,174.24 532.81,171.96 534.96,170.00 537.10,177.84 539.24,179.06 541.38,176.20 543.53,181.36 545.67,185.43 547.81,181.66 549.95,179.42 552.10,180.04 554.24,181.46 556.38,185.59 558.52,184.35 560.66,186.90 562.81,187.97 564.95,186.60 567.09,190.79 569.23,187.19 571.38,188.55 573.52,188.85 575.66,189.93 577.80,192.95 579.95,187.51 582.09,188.06 584.23,193.72 586.37,191.45 588.51,195.59 590.66,195.66 592.80,193.96 594.94,193.39 597.08,198.02 600.30,199.62 601.37,200.46 603.51,198.63 605.65,199.85 607.80,199.23 609.94,199.60 612.08,204.03 614.22,202.84 616.36,200.62 619.36,200.92 620.65,203.89 622.79,206.22 624.93,201.75 627.08,203.26 629.22,205.09 631.36,203.75 633.50,203.17 635.65,203.60 637.79,206.92 639.93,206.82 642.07,206.60 644.21,206.02 646.36,210.40 648.50,208.05 650.64,210.56 652.78,207.43 654.93,209.53 657.07,208.64 659.21,210.07 661.35,207.94 663.50,209.09 665.64,210.93 667.78,212.36 669.92,210.08 672.06,210.26 674.21,211.44 676.35,211.51 678.49,212.11 680.63,210.44 682.78,210.35 684.92,212.50 687.06,212.82" stroke="#e6326e" stroke-width="1.9" fill="none" stroke-linejoin="round" stroke-linecap="butt"/>
<polyline points="397.85,36.98 399.99,40.69 402.13,44.43 404.28,48.13 406.42,52.11 408.56,55.26 410.70,59.02 412.85,61.69 414.99,66.94 417.13,67.45 419.27,75.97 421.42,76.00 423.56,78.11 425.70,82.03 427.84,85.46 429.98,87.64 432.13,89.32 434.27,91.18 436.41,96.65 438.55,97.18 440.70,100.61 442.84,100.88 444.98,105.10 447.12,106.54 449.27,107.50 451.41,111.78 453.55,113.26 455.69,117.17 457.83,118.70 459.98,114.22 462.12,124.34 464.26,125.73 466.40,128.08 468.55,124.45 470.69,135.40 472.83,126.84 474.97,134.13 477.12,135.28 479.26,138.22 481.40,138.04 483.54,138.00 485.68,144.84 487.83,148.08 489.97,146.98 492.11,145.50 494.25,148.49 496.40,151.18 498.54,151.46 500.68,152.86 502.82,158.48 504.97,155.22 507.11,159.09 509.25,158.99 511.39,160.73 513.53,160.62 515.68,159.94 517.82,163.52 519.96,163.89 522.10,163.45 524.25,165.54 526.39,169.10 528.53,167.12 530.67,170.84 532.81,171.69 534.96,171.80 537.10,170.19 539.24,176.38 541.38,176.53 543.53,176.51 545.67,179.80 547.81,178.88 549.95,177.38 552.10,184.77 554.24,181.84 556.38,184.35 558.52,179.41 560.66,183.40 562.81,184.31 564.95,186.78 567.09,189.63 569.23,188.22 571.38,188.30 573.52,189.68 575.66,186.63 577.80,189.47 579.95,193.70 582.09,193.55 584.23,193.06 586.37,197.18 588.51,195.98 590.66,197.84 592.80,196.91 594.94,197.79 597.08,200.17 599.23,196.91 601.37,201.61 603.51,199.72 605.65,204.13 607.80,204.71 609.94,204.77 612.08,205.07 614.22,203.01 616.36,208.20 618.51,202.41 620.65,208.45 622.79,203.86 624.93,206.76 627.08,208.46 629.22,206.64 630.72,200.37 633.50,209.04 635.65,209.28 637.79,205.41 639.93,211.51 642.07,207.75 644.21,211.16 646.36,212.08 648.50,212.13 650.64,210.22 652.78,212.44 654.93,213.51 657.07,211.99 659.21,212.63 661.35,211.91 663.50,214.72 665.64,211.88 667.78,212.43 669.92,214.81 672.06,214.60" stroke="#2a78c8" stroke-width="1.9" fill="none" stroke-linejoin="round" stroke-linecap="butt"/>
<polyline points="397.85,38.28 399.99,41.98 402.13,45.85 404.28,49.22 406.42,51.81 408.56,57.28 410.70,55.66 412.85,61.09 414.99,63.52 417.13,67.31 419.27,69.51 421.42,73.43 423.56,74.77 425.70,77.63 427.84,80.66 429.98,84.86 432.13,85.12 434.27,89.02 436.41,91.14 438.55,93.59 440.70,94.85 442.84,100.83 444.98,99.59 447.12,103.05 449.27,107.71 451.41,105.90 453.55,108.85 455.69,112.95 457.83,117.47 459.98,118.72 462.12,121.66 464.26,118.32 466.40,126.50 468.55,124.61 470.69,134.44 472.83,129.97 474.97,129.06 477.12,134.99 479.26,141.22 481.40,139.65 483.54,139.66 485.68,143.21 487.83,144.99 489.97,145.97 492.11,147.98 494.25,152.40 496.40,150.45 498.54,150.93 500.68,152.93 502.82,159.42 504.97,158.76 507.11,156.11 509.25,165.17 511.39,162.02 513.53,166.45 515.68,164.28 517.82,168.07 519.96,167.02 522.10,169.13 524.25,173.66 526.39,173.88 528.53,177.40 530.67,175.75 532.81,180.22 534.96,184.45 537.10,184.33 539.24,180.83 541.38,184.43 543.53,187.22 545.67,190.97 547.81,194.92 549.95,190.91 552.10,192.00 554.24,197.34 556.38,194.48 558.52,192.39 560.66,195.81 562.81,197.15 564.95,196.75 567.09,197.71 569.23,197.71 571.38,201.53 573.52,200.64 575.66,205.51 577.80,205.92 579.95,203.22 582.09,204.37 584.23,206.34 586.37,207.77 588.51,202.77 590.66,205.88 592.80,210.24 594.94,212.30 597.08,204.34 599.23,209.41 601.37,214.08 603.51,212.42 605.44,184.96 608.65,193.50 609.94,206.06 612.08,209.05 614.22,212.15 616.36,212.93 618.51,210.88 620.65,209.46 622.79,212.57 624.93,214.17 627.08,214.48 629.22,211.37 631.36,214.34 633.50,210.23 635.65,215.33 637.79,219.38 639.93,216.65 642.07,217.14 644.21,215.70 647.00,207.42 648.93,203.71 651.07,204.82 653.00,210.02 654.93,215.01 657.07,215.31 659.21,214.98 661.35,214.84 663.50,217.31 665.64,215.89 667.78,217.56 669.92,218.18 672.06,216.66 674.21,217.62 676.35,216.00 678.49,219.53 680.63,216.39 682.78,216.71 684.92,217.41 687.06,218.08" stroke="#d2401e" stroke-width="1.9" fill="none" stroke-linejoin="round" stroke-linecap="butt"/>
</svg>
<rect x="42.45" y="23.50" width="301.05" height="224.85" fill="none" stroke="#3c3c3c" stroke-width="1.15"/>
<path d="M43.75 248.35v2.4M86.60 248.35v2.4M129.44 248.35v2.4M172.29 248.35v2.4M215.13 248.35v2.4M257.98 248.35v2.4M300.83 248.35v2.4M343.67 248.35v2.4M42.45 246.78h-2.4M42.45 228.21h-2.4M42.45 209.65h-2.4M42.45 191.08h-2.4M42.45 172.52h-2.4M42.45 153.95h-2.4M42.45 135.38h-2.4M42.45 116.82h-2.4M42.45 98.25h-2.4M42.45 79.69h-2.4M42.45 61.12h-2.4M42.45 42.55h-2.4M42.45 23.99h-2.4" stroke="#3c3c3c" stroke-width="1" fill="none"/>
<g font-size="11" fill="#000"><text x="44.05" y="262.3" text-anchor="middle">0</text><text x="86.90" y="262.3" text-anchor="middle">20</text><text x="129.74" y="262.3" text-anchor="middle">40</text><text x="172.59" y="262.3" text-anchor="middle">60</text><text x="215.43" y="262.3" text-anchor="middle">80</text><text x="258.28" y="262.3" text-anchor="middle">100</text><text x="301.13" y="262.3" text-anchor="middle">120</text><text x="343.97" y="262.3" text-anchor="middle">140</text><text x="37.60" y="250.38" text-anchor="end">0</text><text x="37.60" y="231.81" text-anchor="end">1</text><text x="37.60" y="213.25" text-anchor="end">2</text><text x="37.60" y="194.68" text-anchor="end">3</text><text x="37.60" y="176.12" text-anchor="end">4</text><text x="37.60" y="157.55" text-anchor="end">5</text><text x="37.60" y="138.98" text-anchor="end">6</text><text x="37.60" y="120.42" text-anchor="end">7</text><text x="37.60" y="101.85" text-anchor="end">8</text><text x="37.60" y="83.29" text-anchor="end">9</text><text x="37.60" y="64.72" text-anchor="end">10</text><text x="37.60" y="46.15" text-anchor="end">11</text><text x="37.60" y="27.59" text-anchor="end">12</text></g>
<g fill="#fff"><rect x="249" y="261" width="3" height="2"/><rect x="253" y="261" width="2" height="2"/><rect x="292" y="261" width="2" height="2"/><rect x="296" y="261" width="2" height="2"/><rect x="335" y="261" width="2" height="2"/><rect x="339" y="261" width="2" height="2"/><rect x="31" y="230" width="3" height="2"/><rect x="36" y="230" width="2" height="2"/><rect x="25" y="63" width="3" height="2"/><rect x="29" y="63" width="3" height="2"/><rect x="26" y="45" width="3" height="2"/><rect x="30" y="45" width="2" height="2"/><rect x="31" y="45" width="3" height="2"/><rect x="36" y="45" width="2" height="2"/><rect x="25" y="26" width="3" height="2"/><rect x="29" y="26" width="3" height="2"/></g>
<text x="192.97" y="277.9" font-size="14" text-anchor="middle" fill="#000">Epoch</text>
<text transform="translate(15.80,136.60) rotate(-90)" x="0" y="0" font-size="14.2" text-anchor="middle" fill="#000">Binary cross entropy loss</text>
<rect x="396.55" y="23.50" width="301.05" height="224.85" fill="none" stroke="#3c3c3c" stroke-width="1.15"/>
<path d="M397.85 248.35v2.4M440.70 248.35v2.4M483.54 248.35v2.4M526.39 248.35v2.4M569.23 248.35v2.4M612.08 248.35v2.4M654.93 248.35v2.4M697.77 248.35v2.4M396.55 246.78h-2.4M396.55 228.21h-2.4M396.55 209.65h-2.4M396.55 191.08h-2.4M396.55 172.52h-2.4M396.55 153.95h-2.4M396.55 135.38h-2.4M396.55 116.82h-2.4M396.55 98.25h-2.4M396.55 79.69h-2.4M396.55 61.12h-2.4M396.55 42.55h-2.4M396.55 23.99h-2.4" stroke="#3c3c3c" stroke-width="1" fill="none"/>
<g font-size="11" fill="#000"><text x="398.15" y="262.3" text-anchor="middle">0</text><text x="441.00" y="262.3" text-anchor="middle">20</text><text x="483.84" y="262.3" text-anchor="middle">40</text><text x="526.69" y="262.3" text-anchor="middle">60</text><text x="569.53" y="262.3" text-anchor="middle">80</text><text x="612.38" y="262.3" text-anchor="middle">100</text><text x="655.23" y="262.3" text-anchor="middle">120</text><text x="698.07" y="262.3" text-anchor="middle">140</text><text x="391.70" y="250.38" text-anchor="end">0</text><text x="391.70" y="231.81" text-anchor="end">1</text><text x="391.70" y="213.25" text-anchor="end">2</text><text x="391.70" y="194.68" text-anchor="end">3</text><text x="391.70" y="176.12" text-anchor="end">4</text><text x="391.70" y="157.55" text-anchor="end">5</text><text x="391.70" y="138.98" text-anchor="end">6</text><text x="391.70" y="120.42" text-anchor="end">7</text><text x="391.70" y="101.85" text-anchor="end">8</text><text x="391.70" y="83.29" text-anchor="end">9</text><text x="391.70" y="64.72" text-anchor="end">10</text><text x="391.70" y="46.15" text-anchor="end">11</text><text x="391.70" y="27.59" text-anchor="end">12</text></g>
<g fill="#fff"><rect x="603" y="261" width="3" height="2"/><rect x="607" y="261" width="2" height="2"/><rect x="646" y="261" width="2" height="2"/><rect x="650" y="261" width="2" height="2"/><rect x="689" y="261" width="2" height="2"/><rect x="693" y="261" width="2" height="2"/><rect x="385" y="230" width="3" height="2"/><rect x="390" y="230" width="2" height="2"/><rect x="379" y="63" width="3" height="2"/><rect x="384" y="63" width="2" height="2"/><rect x="380" y="45" width="3" height="2"/><rect x="384" y="45" width="3" height="2"/><rect x="385" y="45" width="3" height="2"/><rect x="390" y="45" width="2" height="2"/><rect x="379" y="26" width="3" height="2"/><rect x="384" y="26" width="2" height="2"/></g>
<text x="547.08" y="277.9" font-size="14" text-anchor="middle" fill="#000">Epoch</text>
<text transform="translate(369.90,136.60) rotate(-90)" x="0" y="0" font-size="14.2" text-anchor="middle" fill="#000">Binary cross entropy loss</text>
<text x="194.1" y="18.65" font-size="17" text-anchor="middle" fill="#000">Training loss curves</text>
<text x="547.4" y="18.65" font-size="17" text-anchor="middle" fill="#000">Validation loss curves</text>
<text x="1.2" y="13.7" font-size="19" fill="#000">a</text>
<text x="353.1" y="15.6" font-size="19" fill="#000">b</text>
</svg>
</body></html>
